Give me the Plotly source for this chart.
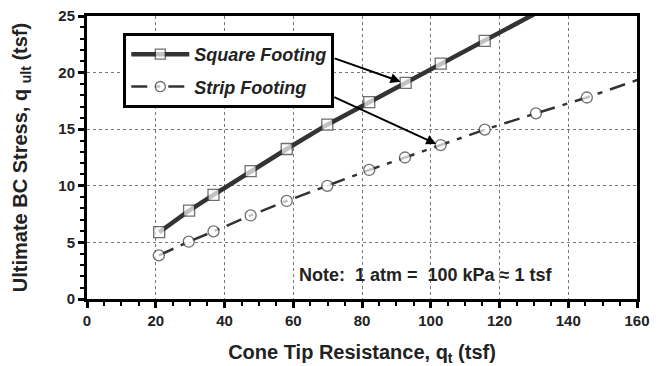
import plotly.graph_objects as go

# Values
square_qt = [21, 29.7, 36.8, 47.6, 58.1, 69.9, 82.1, 92.7, 102.9, 115.7]
square_qult = [5.9, 7.8, 9.2, 11.3, 13.25, 15.4, 17.4, 19.1, 20.8, 22.8]
# where the square line leaves the plot (no marker there)
square_end = (134, 25.8)

strip_qt = [20.9, 29.6, 36.8, 47.6, 58.1, 69.9, 82.1, 92.5, 102.9, 115.7, 130.6, 145.4]
strip_qult = [3.85, 5.06, 5.97, 7.38, 8.66, 10.0, 11.4, 12.5, 13.6, 14.96, 16.4, 17.8]
strip_end = (162, 19.55)

x_ticks = [0, 20, 40, 60, 80, 100, 120, 140, 160]
y_ticks = [0, 5, 10, 15, 20, 25]

FONT = "Arial, Liberation Sans, sans-serif"
DARK = "#333333"
TXT = "#222222"

fig = go.Figure()

fig.add_trace(go.Scatter(
    x=square_qt + [square_end[0]], y=square_qult + [square_end[1]],
    mode="lines+markers",
    name="<b><i>Square Footing</i></b>", legendgroup="a",
    line=dict(color=DARK, width=4.5),
    marker=dict(symbol="square", size=[11] * len(square_qt) + [0], color="white",
                line=dict(color=DARK, width=1.3))
))
fig.add_trace(go.Scatter(
    x=strip_qt + [strip_end[0]], y=strip_qult + [strip_end[1]],
    mode="lines+markers",
    name="<b><i>Strip Footing</i></b>", legendgroup="b",
    line=dict(color=DARK, width=2.5, dash="16px,8px,5px,8px"),
    marker=dict(symbol="circle", size=[11] * len(strip_qt) + [0], color="white",
                line=dict(color=DARK, width=1.3))
))

# Arrows from legend to the curves
fig.add_annotation(x=91.2, y=19.2, ax=71.6, ay=21.3, xref="x", yref="y",
                   axref="x", ayref="y", text="", showarrow=True,
                   arrowhead=2, arrowsize=1, arrowwidth=2, arrowcolor="black")
fig.add_annotation(x=101.6, y=13.7, ax=71.5, ay=17.9, xref="x", yref="y",
                   axref="x", ayref="y", text="", showarrow=True,
                   arrowhead=2, arrowsize=1, arrowwidth=2, arrowcolor="black")

fig.add_annotation(x=98.5, y=2.15, xref="x", yref="y", showarrow=False,
                   text="<b>Note:  1 atm =  100 kPa ≈ 1 tsf</b>",
                   font=dict(family=FONT, size=18, color=TXT))

axis_common = dict(
    showline=True, linecolor="black", linewidth=3, mirror=True,
    ticks="outside", ticklen=6, tickwidth=3, tickcolor="black",
    showgrid=True, gridcolor="#777777", gridwidth=1, griddash="dot",
    zeroline=False, automargin=False, ticklabeloverflow="allow",
    tickfont=dict(family=FONT, size=15, color=TXT, weight="bold"),
)

fig.update_xaxes(
    range=[0, 160], tickvals=x_ticks,
    title=dict(text="<b>Cone Tip Resistance, q<sub>t</sub> (tsf)</b>",
               font=dict(family=FONT, size=20, color=TXT), standoff=17),
    minor=dict(dtick=5, ticks="outside", ticklen=4, tickwidth=2,
               tickcolor="black", showgrid=False),
    **axis_common
)
fig.update_yaxes(
    range=[0, 25], tickvals=y_ticks,
    title=dict(text="<b>Ultimate BC Stress, q <sub>ult</sub> (tsf)</b>",
               font=dict(family=FONT, size=20, color=TXT), standoff=26),
    minor=dict(dtick=1, ticks="outside", ticklen=4, tickwidth=2,
               tickcolor="black", showgrid=False),
    **axis_common
)

# the page body adds an 8px offset, so the figure is sized to fit the window
fig.update_layout(
    width=655, height=358,
    margin=dict(l=79, r=26, t=8, b=67),
    plot_bgcolor="white", paper_bgcolor="white",
    font=dict(family=FONT),
    legend=dict(
        x=0.066, y=0.94, xanchor="left", yanchor="top",
        bgcolor="white", bordercolor="black", borderwidth=3,
        font=dict(family=FONT, size=18, color=TXT),
        tracegroupgap=6, itemwidth=58,
    ),
)

fig.write_html("out.html")
